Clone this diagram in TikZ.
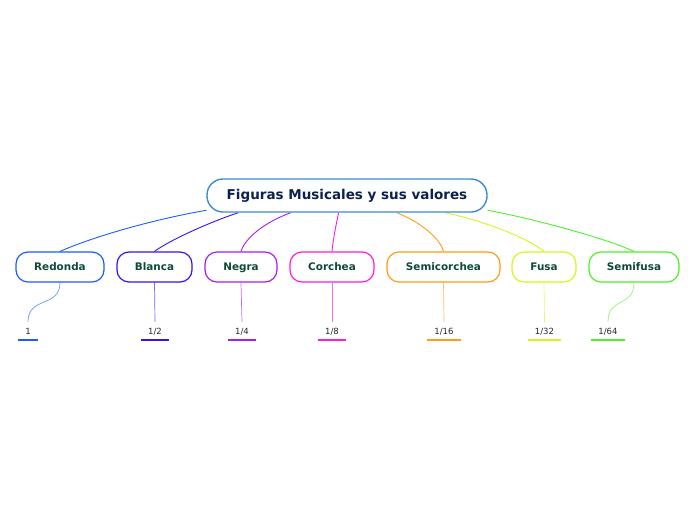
\documentclass[tikz,border=0pt]{standalone}
\usepackage{fontspec}
\setmainfont{DejaVu Sans}
\usetikzlibrary{backgrounds}

\definecolor{rootblue}{HTML}{3A8DCC}
\definecolor{rootnavy}{HTML}{0B2150}
\definecolor{figtext}{HTML}{0F4A32}
\definecolor{cRedonda}{HTML}{1A5CFF}
\definecolor{cBlanca}{HTML}{3A10F0}
\definecolor{cNegra}{HTML}{A81CF0}
\definecolor{cCorchea}{HTML}{FF1ADC}
\definecolor{cSemicorchea}{HTML}{FF9C14}
\definecolor{cFusa}{HTML}{D6F51E}
\definecolor{cSemifusa}{HTML}{4CF024}

\begin{document}
\begin{tikzpicture}[
  x=1pt, y=-1pt,
  titulo/.style={draw=rootblue, line width=1.4pt, rounded corners=16pt, fill=white, minimum width=280pt, minimum height=33pt, inner sep=0pt, text height=0.74em, text depth=0.02em, text=rootnavy, font=\fontsize{13.5}{16}\selectfont\bfseries},
  figura/.style={draw=#1, line width=1.2pt, rounded corners=12pt, fill=white, minimum height=30pt, inner sep=0pt, text height=0.74em, text depth=0.02em, text=figtext, font=\fontsize{10.4}{12}\selectfont\bfseries},
  valor/.style={minimum height=18pt, inner sep=0pt, text height=0.74em, text depth=0.02em, font=\fontsize{8.5}{10}\selectfont, text=black!85},
  rama/.style={line width=0.9pt, draw=#1},
  hoja/.style={line width=0.7pt, draw=#1!65},
  raya/.style={line width=2.2pt, draw=#1}
]
\useasboundingbox (0,0) rectangle (696,520);

\node[titulo] (root) at (347,195.5) {Figuras Musicales y sus valores};

\node[figura=cRedonda, minimum width=88pt] (redonda) at (60,267) {Redonda};
\node[figura=cBlanca, minimum width=75pt] (blanca) at (154.5,267) {Blanca};
\node[figura=cNegra, minimum width=72pt] (negra) at (241,267) {Negra};
\node[figura=cCorchea, minimum width=84pt] (corchea) at (332,267) {Corchea};
\node[figura=cSemicorchea, minimum width=113pt] (semicorchea) at (443.5,267) {Semicorchea};
\node[figura=cFusa, minimum width=64pt] (fusa) at (544,267) {Fusa};
\node[figura=cSemifusa, minimum width=90pt] (semifusa) at (634,267) {Semifusa};

\node[valor, minimum width=20pt] (v1) at (28,331) {1};
\node[valor, minimum width=28pt] (v2) at (155,331) {1/2};
\node[valor, minimum width=28pt] (v4) at (242,331) {1/4};
\node[valor, minimum width=28pt] (v8) at (332,331) {1/8};
\node[valor, minimum width=34pt] (v16) at (444,331) {1/16};
\node[valor, minimum width=33pt] (v32) at (544.5,331) {1/32};
\node[valor, minimum width=34pt] (v64) at (608,331) {1/64};

% underlines of the values
\draw[raya=cRedonda] (v1.south west) -- (v1.south east);
\draw[raya=cBlanca] (v2.south west) -- (v2.south east);
\draw[raya=cNegra] (v4.south west) -- (v4.south east);
\draw[raya=cCorchea] (v8.south west) -- (v8.south east);
\draw[raya=cSemicorchea] (v16.south west) -- (v16.south east);
\draw[raya=cFusa] (v32.south west) -- (v32.south east);
\draw[raya=cSemifusa] (v64.south west) -- (v64.south east);

\begin{scope}[on background layer]
% branches from the title
\draw[rama=cRedonda] (root.186) .. controls (150,220) and (90,238) .. (redonda.north);
\draw[rama=cBlanca] (root.189.5) .. controls (210,222) and (170,240) .. (blanca.north);
\draw[rama=cNegra] (root.197) .. controls (265,222) and (245,238) .. (negra.north);
\draw[rama=cCorchea] (root.244) .. controls (336,225) and (333,240) .. (corchea.north);
\draw[rama=cSemicorchea] (root.341.7) .. controls (420,222) and (440,238) .. (semicorchea.north);
\draw[rama=cFusa] (root.350.9) .. controls (490,222) and (530,240) .. (fusa.north);
\draw[rama=cSemifusa] (root.354.3) .. controls (540,220) and (610,240) .. (semifusa.north);

% values below each figure
\draw[hoja=cRedonda] (redonda.south) .. controls (60,308) and (28,296) .. (v1.north);
\draw[hoja=cBlanca] (blanca.south) -- (v2.north);
\draw[hoja=cNegra] (negra.south) -- (v4.north);
\draw[hoja=cCorchea] (corchea.south) -- (v8.north);
\draw[hoja=cSemicorchea] (semicorchea.south) -- (v16.north);
\draw[hoja=cFusa] (fusa.south) -- (v32.north);
\draw[hoja=cSemifusa] (semifusa.south) .. controls (634,308) and (608,296) .. (v64.north);
\end{scope}
\end{tikzpicture}
\end{document}
